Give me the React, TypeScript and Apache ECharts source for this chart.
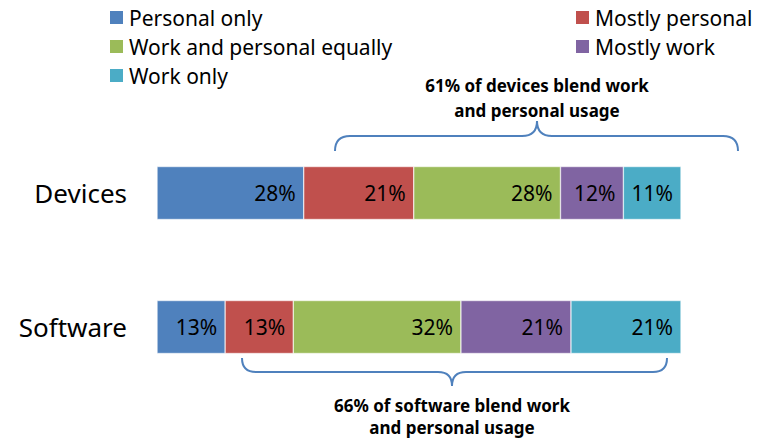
import React, { useEffect, useRef } from "react";
import * as echarts from "echarts";

const categories = ["Devices", "Software"];
const seriesNames = [
  "Personal only",
  "Mostly personal",
  "Work and personal equally",
  "Mostly work",
  "Work only",
];
const personalOnly = [28, 13];
const mostlyPersonal = [21, 13];
const workPersonalEqually = [28, 32];
const mostlyWork = [12, 21];
const workOnly = [11, 21];
const colors = ["#4F81BD", "#C0504D", "#9BBB59", "#8064A2", "#4BACC6"];
const topNote = ["61% of devices blend work", "and personal usage"];
const bottomNote = ["66% of software blend work", "and personal usage"];

const FONT = "'Noto Sans', 'Open Sans', sans-serif";

echarts.graphic.registerShape(
  "braceUp",
  echarts.graphic.extendPath(
    "M0,30 Q0,15 15,15 L187,15 Q202,15 202,0 Q202,15 217,15 L388,15 Q403,15 403,30",
    {}
  ) as any
);
echarts.graphic.registerShape(
  "braceDown",
  echarts.graphic.extendPath(
    "M0,0 Q0,14 14,14 L196,14 Q210,14 210,28 Q210,14 224,14 L411,14 Q425,14 425,0",
    {}
  ) as any
);

export default function App() {
  const ref = useRef<HTMLDivElement>(null);
  useEffect(() => {
    if (!ref.current) return;
    const chart = echarts.init(ref.current, undefined, { renderer: "svg" });
    const values = [personalOnly, mostlyPersonal, workPersonalEqually, mostlyWork, workOnly];
    const legendBase = {
      orient: "vertical",
      top: 2,
      itemWidth: 15,
      itemHeight: 15,
      itemGap: 8,
      icon: "rect",
      textStyle: { fontSize: 21, color: "#000", fontFamily: FONT },
    };
    chart.setOption({
      animation: false,
      textStyle: { fontFamily: FONT },
      legend: [
        { ...legendBase, data: [seriesNames[0], seriesNames[2], seriesNames[4]], left: 103 },
        { ...legendBase, data: [seriesNames[1], seriesNames[3]], left: 569 },
      ],
      grid: { left: 157, right: 90, top: 126, bottom: 45, containLabel: false },
      xAxis: { type: "value", min: 0, max: 100, show: false },
      yAxis: {
        type: "category",
        data: categories,
        inverse: true,
        axisLine: { show: false },
        axisTick: { show: false },
        axisLabel: { fontSize: 26, color: "#000", margin: 30, fontFamily: FONT },
      },
      series: seriesNames.map((name, i) => ({
        name,
        type: "bar",
        stack: "total",
        barWidth: 53,
        data: values[i],
        itemStyle: { color: colors[i], borderColor: "#fff", borderWidth: 0.5 },
        label: {
          show: true,
          position: "insideRight",
          distance: 8,
          formatter: "{c}%",
          fontSize: 21,
          color: "#000",
          fontFamily: FONT,
        },
      })),
      graphic: [
        {
          type: "braceUp",
          x: 335,
          y: 121,
          style: { fill: "none", stroke: "#4F81BD", lineWidth: 2 },
        },
        {
          type: "braceDown",
          x: 242,
          y: 358,
          style: { fill: "none", stroke: "#4F81BD", lineWidth: 2 },
        },
        {
          type: "text",
          x: 537,
          y: 85,
          style: {
            text: topNote[0],
            textAlign: "center",
            textVerticalAlign: "middle",
            font: `bold 17px ${FONT}`,
            fill: "#000",
          },
        },
        {
          type: "text",
          x: 537,
          y: 110,
          style: {
            text: topNote[1],
            textAlign: "center",
            textVerticalAlign: "middle",
            font: `bold 17px ${FONT}`,
            fill: "#000",
          },
        },
        {
          type: "text",
          x: 452,
          y: 405,
          style: {
            text: bottomNote[0],
            textAlign: "center",
            textVerticalAlign: "middle",
            font: `bold 17px ${FONT}`,
            fill: "#000",
          },
        },
        {
          type: "text",
          x: 452,
          y: 427,
          style: {
            text: bottomNote[1],
            textAlign: "center",
            textVerticalAlign: "middle",
            font: `bold 17px ${FONT}`,
            fill: "#000",
          },
        },
      ],
    });
    return () => chart.dispose();
  }, []);
  return (
    <div
      ref={ref}
      style={{ position: "fixed", left: 0, top: 0, width: 771, height: 439, background: "#fff" }}
    />
  );
}
